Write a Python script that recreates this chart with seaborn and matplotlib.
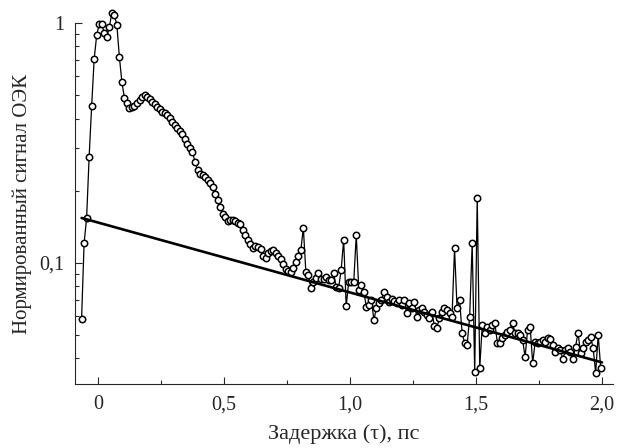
import numpy as np
import matplotlib
matplotlib.use("Agg")
import matplotlib.pyplot as plt
import matplotlib.ticker as mticker
import seaborn as sns

# delay grid (ps) and normalized signal
t_start = -0.065
t_step = 0.01
signal = [
    0.0584, 0.121, 0.154, 0.277, 0.451, 0.708, 0.891, 0.99, 0.99, 0.909,
    0.874, 0.962, 1.10, 1.08, 0.981, 0.722, 0.567, 0.487, 0.464, 0.442,
    0.447, 0.451, 0.464, 0.478, 0.491, 0.501, 0.491, 0.482, 0.469, 0.460,
    0.447, 0.438, 0.426, 0.422, 0.414, 0.402, 0.387, 0.376, 0.365, 0.355,
    0.345, 0.329, 0.313, 0.301, 0.290, 0.264, 0.244, 0.235, 0.233, 0.228,
    0.222, 0.215, 0.207, 0.194, 0.183, 0.171, 0.160, 0.155, 0.150, 0.151,
    0.151, 0.150, 0.147, 0.145, 0.137, 0.131, 0.125, 0.120, 0.115, 0.118,
    0.117, 0.114, 0.107, 0.105, 0.110, 0.112, 0.113, 0.110, 0.107, 0.104,
    0.0990, 0.0944, 0.0926, 0.0917, 0.0953, 0.101, 0.107, 0.113, 0.140, 0.0917,
    0.0891, 0.0787, 0.0833, 0.0866, 0.0908, 0.0858, 0.0858, 0.0874, 0.0850, 0.0850,
    0.0908, 0.0794, 0.0787, 0.0935, 0.125, 0.0662, 0.0833, 0.0833, 0.0833, 0.131,
    0.0772, 0.0810, 0.0757, 0.0656, 0.0668, 0.0701, 0.0579, 0.0649, 0.0681, 0.0701,
    0.0757, 0.0722, 0.0688, 0.0708, 0.0695, 0.0681, 0.0701, 0.0668, 0.0701, 0.0619,
    0.0681, 0.0649, 0.0688, 0.0596, 0.0637, 0.0649, 0.0625, 0.0607, 0.0590, 0.0625,
    0.0546, 0.0536, 0.0590, 0.0625, 0.0649, 0.0637, 0.0619, 0.0596, 0.115, 0.0649,
    0.0701, 0.0511, 0.0464, 0.0455, 0.0596, 0.121, 0.0351, 0.187, 0.0365, 0.0552,
    0.0511, 0.0541, 0.0526, 0.0552, 0.0562, 0.0464, 0.0464, 0.0487, 0.0501, 0.0516,
    0.0526, 0.0562, 0.0511, 0.0511, 0.0501, 0.0478, 0.0406, 0.0526, 0.0541, 0.0383,
    0.0469, 0.0464, 0.0469, 0.0478, 0.0469, 0.0487, 0.0482, 0.0455, 0.0426, 0.0442,
    0.0434, 0.0398, 0.0434, 0.0442, 0.0426, 0.0398, 0.0447, 0.0511, 0.0422, 0.0442,
    0.0469, 0.0478, 0.0492, 0.0442, 0.0348, 0.0501, 0.0365,
]
delay = np.round(t_start + t_step * np.arange(len(signal)), 3)

# exponential fit (straight on log axis), end points
fit_t = [-0.065, 2.0]
fit_y = [0.154, 0.0385]

xticks = [0, 0.5, 1.0, 1.5, 2.0]
xtick_labels = ["0", "0,5", "1,0", "1,5", "2,0"]
yticks = [0.1, 1]
ytick_labels = ["0,1", "1"]

sns.set_style("ticks")
plt.rcParams["font.family"] = ["Liberation Serif", "DejaVu Serif"]

fig = plt.figure(figsize=(6.17, 4.48), dpi=100)
ax = fig.add_axes([0.1216, 0.1429, 0.872, 0.857])

sns.lineplot(x=delay, y=signal, ax=ax, color="black", lw=0.9, marker="o",
             markersize=4.6, markerfacecolor="white", markeredgecolor="black",
             markeredgewidth=1.1)
sns.lineplot(x=fit_t, y=fit_y, ax=ax, color="black", lw=1.9)

ax.set_yscale("log")
ax.set_xlim(-0.091, 2.044)
ax.set_ylim(0.0313, 1.247)

ax.set_xticks(xticks)
ax.set_xticklabels(xtick_labels)
ax.xaxis.set_minor_locator(mticker.MultipleLocator(0.25))
ax.set_yticks(yticks)
ax.set_yticklabels(ytick_labels)
ax.yaxis.set_minor_locator(mticker.LogLocator(base=10, subs=np.arange(2, 10)))
ax.yaxis.set_minor_formatter(mticker.NullFormatter())

ax.tick_params(axis="both", which="major", direction="in", length=5,
               width=0.8, labelsize=14.5, pad=8)
ax.tick_params(axis="both", which="minor", direction="in", length=3, width=0.8)

sns.despine(ax=ax)
ax.spines["left"].set_bounds(0.0313, 1.0)
ax.spines["left"].set_linewidth(0.8)
ax.spines["bottom"].set_linewidth(0.8)

ax.set_xlabel("Задержка (τ), пс", fontsize=16, labelpad=7)
ax.set_ylabel("Нормированный сигнал ОЭК", fontsize=15)
ax.yaxis.set_label_coords(-0.08, 0.47)

fig.savefig("out.png", dpi=100)
